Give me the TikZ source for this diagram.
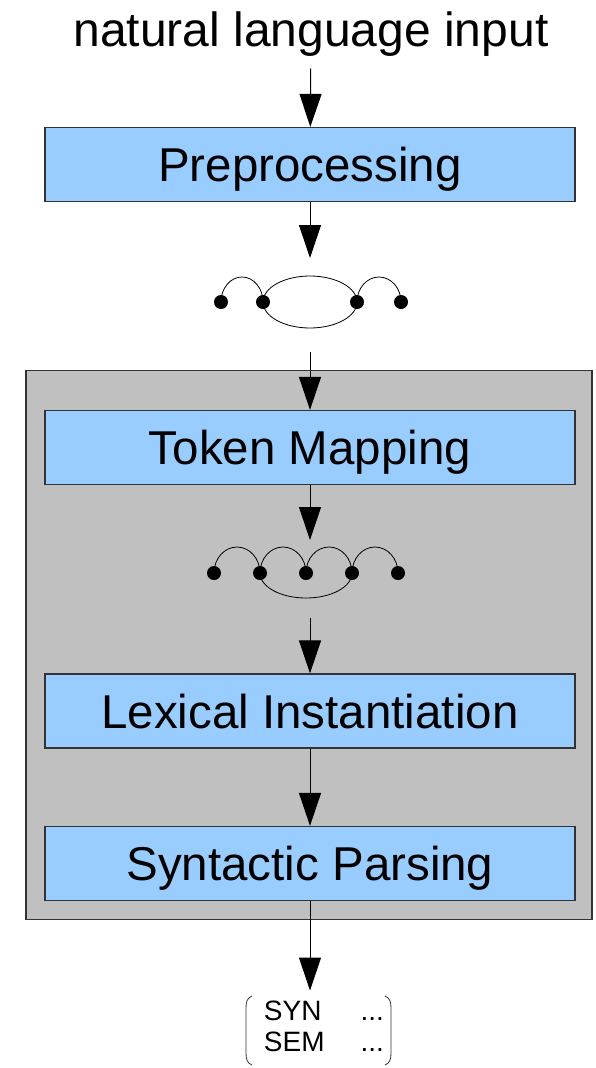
\documentclass[tikz,border=0pt]{standalone}
\usepackage{fontspec}
\setmainfont{Liberation Sans}
\usetikzlibrary{arrows.meta}

\definecolor{stageblue}{HTML}{99CCFF}
\definecolor{coregray}{HTML}{C0C0C0}

\tikzset{
  flow/.style={draw=black, line width=1pt, -{Triangle[width=22pt,length=33pt]}},
  stage/.style={draw=black!80, line width=1.2pt, fill=stageblue,
    minimum width=530pt, minimum height=74pt, inner sep=0pt,
    text height=34pt, text depth=0pt,
    font=\fontsize{47.5}{56}\selectfont},
  dot/.style={fill=black, circle, inner sep=0pt, minimum size=14pt},
  arcline/.style={draw=black, line width=0.8pt},
}

\begin{document}
\begin{tikzpicture}[x=1pt, y=1pt]
  \useasboundingbox (0,0) rectangle (596,-1068);
  % Gray frame around the parser stages
  \node[draw=black!80, line width=1.2pt, fill=coregray, minimum width=566pt,
        minimum height=549pt] (core) at (309,-645) {};

  % Input text
  \node[font=\fontsize{48}{58}\selectfont, inner sep=0pt, outer sep=12pt,
        text height=36pt, text depth=10pt, anchor=base] (input) at (311,-46.5) {natural language input};

  % Processing stages
  \node[stage] (prep) at (310,-164.5) {Preprocessing};
  \node[stage] (tokmap) at (310,-447.5) {Token Mapping};
  \node[stage] (lexinst) at (310,-711) {Lexical Instantiation};
  \node[stage] (synparse) at (310,-863.5) {Syntactic Parsing};

  % Input chart after preprocessing
  \coordinate (chartA in) at (310,-258);
  \coordinate (chartA out) at (310,-352);
  \draw[arcline] (221,-302) arc[start angle=180, end angle=0, x radius=21, y radius=25];
  \draw[arcline] (310,-302) ellipse[x radius=47, y radius=26];
  \draw[arcline] (357,-302) arc[start angle=180, end angle=0, x radius=22, y radius=25];
  \foreach \x in {221,263,357,401}
    \node[dot] at (\x,-302) {};

  % Token chart after token mapping
  \coordinate (chartB in) at (310,-540);
  \coordinate (chartB out) at (310,-618);
  \foreach \x in {214,260,306,352}
    \draw[arcline] (\x,-573) arc[start angle=180, end angle=0, x radius=23, y radius=26];
  \draw[arcline] (260,-573) arc[start angle=180, end angle=360, x radius=46, y radius=25];
  \foreach \x in {214,260,306,352,398}
    \node[dot] at (\x,-573) {};

  % Resulting feature structure
  \node[font=\fontsize{28}{32}\selectfont, inner sep=0pt, outer sep=8pt] (fs) at (324,-1030)
    {\begin{tabular}{@{}l@{\hspace{36pt}}l@{}}SYN & ...\\[-1pt] SEM & ...\end{tabular}};
  \draw[line width=0.8pt, black!80] (252,-996) .. controls (247,-998) and (246,-1002) .. (246,-1008)
    -- (246,-1053) .. controls (246,-1059) and (247,-1063) .. (252,-1065);
  \draw[line width=0.8pt, black!80] (385,-996) .. controls (390,-998) and (391,-1002) .. (391,-1008)
    -- (391,-1053) .. controls (391,-1059) and (390,-1063) .. (385,-1065);

  % Arrows
  \draw[flow] (input) -- (prep);
  \draw[flow] (prep) -- (chartA in);
  \draw[flow] (chartA out) -- (tokmap);
  \draw[flow] (tokmap) -- (chartB in);
  \draw[flow] (chartB out) -- (lexinst);
  \draw[flow] (lexinst) -- (synparse);
  \draw[flow] (synparse.south) -- (synparse.south |- fs.north);
\end{tikzpicture}
\end{document}
